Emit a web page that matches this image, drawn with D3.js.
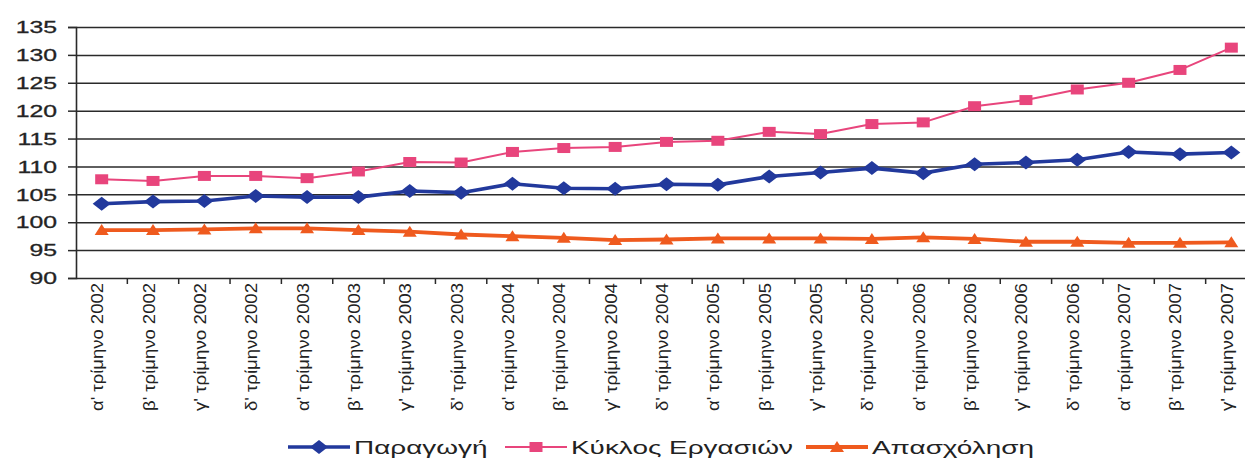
<!DOCTYPE html>
<html>
<head>
<meta charset="utf-8">
<script src="https://cdn.jsdelivr.net/npm/d3@7"></script>
<style>
  html, body { margin: 0; padding: 0; background: #ffffff; }
  svg { display: block; }
  text { font-family: "Liberation Sans", Arial, sans-serif; fill: #222; }
</style>
</head>
<body>
<svg id="chart" width="1245" height="461"></svg>
<script>
// Quarterly indices, 2002 Q1 – 2007 Q3
const categories = [
  "α' τρίμηνο 2002", "β' τρίμηνο 2002", "γ' τρίμηνο 2002", "δ' τρίμηνο 2002",
  "α' τρίμηνο 2003", "β' τρίμηνο 2003", "γ' τρίμηνο 2003", "δ' τρίμηνο 2003",
  "α' τρίμηνο 2004", "β' τρίμηνο 2004", "γ' τρίμηνο 2004", "δ' τρίμηνο 2004",
  "α' τρίμηνο 2005", "β' τρίμηνο 2005", "γ' τρίμηνο 2005", "δ' τρίμηνο 2005",
  "α' τρίμηνο 2006", "β' τρίμηνο 2006", "γ' τρίμηνο 2006", "δ' τρίμηνο 2006",
  "α' τρίμηνο 2007", "β' τρίμηνο 2007", "γ' τρίμηνο 2007"
];
const production = [
  103.3, 103.7, 103.8, 104.7, 104.5, 104.5, 105.6, 105.3,
  106.9, 106.1, 106.0, 106.8, 106.7, 108.2, 108.9, 109.7,
  108.8, 110.4, 110.7, 111.2, 112.6, 112.2, 112.5
];
const turnover = [
  107.7, 107.4, 108.3, 108.3, 107.9, 109.1, 110.8, 110.7,
  112.6, 113.3, 113.5, 114.4, 114.6, 116.2, 115.8, 117.6,
  117.9, 120.8, 121.9, 123.8, 125.0, 127.3, 131.3
];
const employment = [
  98.6, 98.6, 98.7, 98.9, 98.9, 98.6, 98.3, 97.8,
  97.5, 97.2, 96.8, 96.9, 97.1, 97.1, 97.1, 97.0,
  97.3, 97.0, 96.5, 96.5, 96.3, 96.3, 96.4
];
const yTicks = [90, 95, 100, 105, 110, 115, 120, 125, 130, 135];
const seriesNames = ["Παραγωγή", "Κύκλος Εργασιών", "Απασχόληση"];

const svg = d3.select("#chart");
const plotLeft = 76, plotRight = 1257, plotTop = 27, plotBottom = 278;

const x = d3.scaleBand().domain(categories).range([plotLeft, plotRight]).padding(0);
const cx = d => x(d) + x.bandwidth() / 2;
const y = d3.scaleLinear().domain([90, 135]).range([plotBottom, plotTop]);

const gridColor = "#2a2a2a";

// Horizontal gridlines with tick marks on the left
const yAxis = svg.append("g")
  .attr("transform", `translate(${plotLeft},0)`)
  .call(d3.axisLeft(y).tickValues(yTicks).tickSize(8).tickPadding(0).tickFormat(d3.format("d")));
yAxis.select(".domain").attr("stroke", gridColor).attr("stroke-width", 1.6);
yAxis.selectAll(".tick line").attr("stroke", gridColor).attr("stroke-width", 1.5);
yAxis.selectAll(".tick").append("line")
  .attr("x1", 0).attr("x2", 1245 - plotLeft)
  .attr("stroke", gridColor).attr("stroke-width", 1.5);
yAxis.selectAll(".tick text")
  .attr("x", 0).attr("dy", "0.36em")
  .attr("text-anchor", "end")
  .attr("font-size", 16)
  .attr("fill", "#2a2a2a")
  .attr("stroke", "#2a2a2a").attr("stroke-width", 0.3)
  .attr("transform", "translate(-19,0) scale(1.55,1)");

// Category axis: ticks between quarters, rotated labels
const xAxis = svg.append("g")
  .attr("transform", `translate(0,${plotBottom})`)
  .call(d3.axisBottom(x).tickSize(0).tickPadding(0));
xAxis.select(".domain").remove();
xAxis.selectAll(".tick text")
  .attr("y", 0).attr("dy", 0)
  .attr("text-anchor", "end")
  .attr("font-size", 16)
  .attr("fill", "#222")
  .attr("textLength", 128)
  .attr("lengthAdjust", "spacingAndGlyphs")
  .attr("transform", "translate(-4,5) rotate(-90) translate(0,5.5)");
svg.append("g").selectAll("line")
  .data(categories.slice(1))
  .join("line")
  .attr("x1", d => x(d)).attr("x2", d => x(d))
  .attr("y1", plotBottom).attr("y2", plotBottom + 6)
  .attr("stroke", gridColor).attr("stroke-width", 1.5);

// Marker shapes
const diamond = "M0,-7L9,0L0,7L-9,0Z";
const square = "M-6.5,-5H6.5V5H-6.5Z";
const triangle = "M0,-6L7,5H-7Z";

const series = [
  { name: seriesNames[0], values: production, color: "#22399c", width: 3.6, marker: diamond },
  { name: seriesNames[1], values: turnover,  color: "#e8457c", width: 2,   marker: square },
  { name: seriesNames[2], values: employment, color: "#ef5a1e", width: 3.8, marker: triangle }
];

const line = d3.line().x((d, i) => cx(categories[i])).y(d => y(d));

// Draw employment first, then production, then turnover on top
[series[2], series[0], series[1]].forEach(s => {
  const g = svg.append("g");
  g.append("path")
    .datum(s.values)
    .attr("fill", "none")
    .attr("stroke", s.color)
    .attr("stroke-width", s.width)
    .attr("stroke-linejoin", "round")
    .attr("d", line);
  g.selectAll("path.m")
    .data(s.values)
    .join("path")
    .attr("class", "m")
    .attr("d", s.marker)
    .attr("fill", s.color)
    .attr("transform", (d, i) => `translate(${cx(categories[i])},${y(d)})`);
});

// Legend
const legendItems = [
  { s: series[0], lx: 288, tx: 354 },
  { s: series[1], lx: 505, tx: 571 },
  { s: series[2], lx: 806, tx: 872 }
];
const ly = 447;
const lg = svg.append("g");
legendItems.forEach(it => {
  lg.append("line")
    .attr("x1", it.lx).attr("x2", it.lx + 62)
    .attr("y1", ly).attr("y2", ly)
    .attr("stroke", it.s.color).attr("stroke-width", it.s.width);
  lg.append("path")
    .attr("d", it.s.marker)
    .attr("fill", it.s.color)
    .attr("transform", `translate(${it.lx + 31},${ly})`);
  lg.append("text")
    .attr("x", 0).attr("y", 0)
    .attr("dy", "0.35em")
    .attr("font-size", 19)
    .attr("fill", "#222")
    .attr("transform", `translate(${it.tx},${ly}) scale(1.47,1)`)
    .text(it.s.name);
});
</script>
</body>
</html>
